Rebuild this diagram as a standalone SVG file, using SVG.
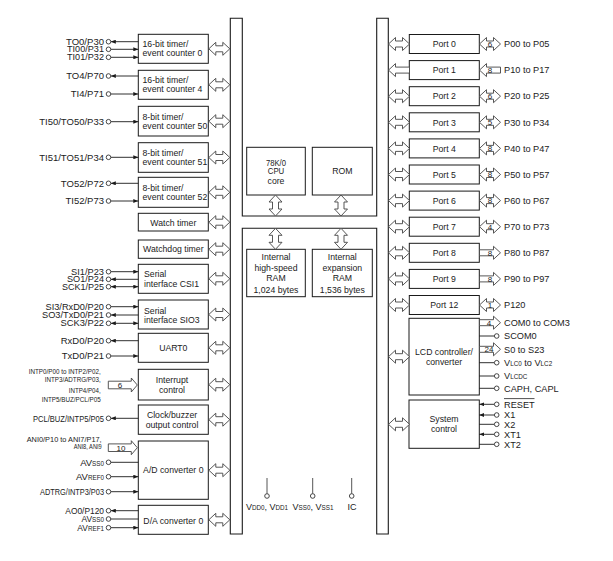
<svg xmlns="http://www.w3.org/2000/svg" width="613" height="561" viewBox="0 0 613 561">
<style>
.bx{fill:#fff;stroke:#1a1a1a;stroke-width:1}
.bus{fill:#fff;stroke:#1a1a1a;stroke-width:1.1}
.ln{stroke:#1a1a1a;stroke-width:0.9;fill:none}
.pl{stroke:#555;stroke-width:1;fill:none}
.ha{fill:#fff;stroke:#444;stroke-width:0.9}
text{font-family:"Liberation Sans",Arial,sans-serif;fill:#222}
.b{font-size:8.7px}
.bc{font-size:8.7px;text-anchor:middle}
.pL{font-size:9.5px;text-anchor:end}
.pT{font-size:8.4px;text-anchor:end}
.pR{font-size:9.2px}
.n{font-size:8px;text-anchor:middle}
.s{font-size:6.3px}
.cnd{font-size:6.8px;text-anchor:end}
</style>
<defs>
<marker id="ah" viewBox="0 0 5 4" refX="5" refY="2" markerWidth="5" markerHeight="4" markerUnits="userSpaceOnUse" orient="auto-start-reverse"><path d="M0,0L5,2L0,4Z" fill="#1a1a1a"/></marker>
<path id="dbl" d="M0,0L7,-6.5L7,-3L14,-3L14,-6.5L21,0L14,6.5L14,3L7,3L7,6.5Z"/>
<path id="lft" d="M0,0L7,-6.5L7,-3L21,-3L21,3L7,3L7,6.5Z"/>
<path id="rgt" d="M0,-3L14,-3L14,-6.5L21,0L14,6.5L14,3L0,3Z"/>
<path id="rgt29" d="M0,-3.8L23,-3.8L23,-7L29,0L23,7L23,3.8L0,3.8Z"/>
<path id="vdbl" d="M0,0L6.5,7L3,7L3,14L6.5,14L0,21L-6.5,14L-3,14L-3,7L-6.5,7Z"/>
</defs>

<g id="bus">
<path class="bus" d="M230.3,18.3H242.3V216H376.7V18.3H388.3V534H376.7V228.3H242.3V534H230.3Z"/>
</g>

<g id="cpu"><rect class="bx" x="246.7" y="147.3" width="58.6" height="47.7"/>
<text class="bc" x="276" y="166" textLength="20" lengthAdjust="spacingAndGlyphs">78K/0</text>
<text class="bc" x="276" y="173.5" textLength="16.5" lengthAdjust="spacingAndGlyphs">CPU</text>
<text class="bc" x="276" y="183.5">core</text></g>
<g id="rom"><rect class="bx" x="312.3" y="147.3" width="60" height="47.7"/>
<text class="bc" x="342.3" y="174">ROM</text></g>
<g id="ram"><rect class="bx" x="246.7" y="249.3" width="58.6" height="47.4"/>
<text class="bc" x="276" y="260">Internal</text><text class="bc" x="276" y="270.5">high-speed</text><text class="bc" x="276" y="281">RAM</text><text class="bc" x="276" y="293">1,024 bytes</text></g>
<g id="xram"><rect class="bx" x="312.3" y="249.3" width="60" height="47.4"/>
<text class="bc" x="342.3" y="260">Internal</text><text class="bc" x="342.3" y="270.5">expansion</text><text class="bc" x="342.3" y="281">RAM</text><text class="bc" x="342.3" y="293">1,536 bytes</text></g>

<g id="tm0"><rect class="bx" x="138.3" y="34.3" width="70" height="29"/><text class="b" x="142.5" y="47.4">16-bit timer/</text><text class="b" x="142.5" y="56.4">event counter 0</text></g>
<g id="tm4"><rect class="bx" x="138.3" y="70.3" width="70" height="29"/><text class="b" x="142.5" y="83.4">16-bit timer/</text><text class="b" x="142.5" y="92.4">event counter 4</text></g>
<g id="tm50"><rect class="bx" x="138.3" y="106.3" width="70" height="29.7"/><text class="b" x="142.5" y="119.7">8-bit timer/</text><text class="b" x="142.5" y="128.7">event counter 50</text></g>
<g id="tm51"><rect class="bx" x="138.3" y="142.7" width="70" height="29.6"/><text class="b" x="142.5" y="156">8-bit timer/</text><text class="b" x="142.5" y="165">event counter 51</text></g>
<g id="tm52"><rect class="bx" x="138.3" y="177.3" width="70" height="30"/><text class="b" x="142.5" y="190.8">8-bit timer/</text><text class="b" x="142.5" y="199.8">event counter 52</text></g>
<g id="wt"><rect class="bx" x="138.3" y="213.3" width="70" height="17.7"/><text class="bc" x="173.3" y="225.5">Watch timer</text></g>
<g id="wdt"><rect class="bx" x="138.3" y="240" width="70" height="18.3"/><text class="bc" x="173.3" y="252.4">Watchdog timer</text></g>
<g id="csi1"><rect class="bx" x="138.3" y="264.3" width="70" height="29"/><text class="b" x="144" y="277.4">Serial</text><text class="b" x="144" y="287.1">interface CSI1</text></g>
<g id="sio3"><rect class="bx" x="138.3" y="300" width="70" height="29"/><text class="b" x="144" y="313.8">Serial</text><text class="b" x="144" y="323.1">interface SIO3</text></g>
<g id="uart0"><rect class="bx" x="138.3" y="333.3" width="70" height="29"/><text class="bc" x="173.3" y="351">UART0</text></g>
<g id="intc"><rect class="bx" x="138.3" y="369.3" width="70" height="30.7"/><text class="bc" x="172" y="383.1">Interrupt</text><text class="bc" x="172" y="393.1">control</text></g>
<g id="clk"><rect class="bx" x="138.3" y="405" width="70" height="29.3"/><text class="bc" x="172" y="418.1">Clock/buzzer</text><text class="bc" x="172" y="428.1">output control</text></g>
<g id="adc"><rect class="bx" x="138.3" y="441" width="70" height="58.3"/><text class="bc" x="173.3" y="473.3">A/D converter 0</text></g>
<g id="dac"><rect class="bx" x="138.3" y="505.3" width="70" height="29"/><text class="bc" x="173.3" y="523.9">D/A converter 0</text></g>

<g id="p0"><rect class="bx" x="409.3" y="34.5" width="70" height="19"/><text class="bc" x="444.3" y="47.2">Port 0</text></g>
<g id="p1"><rect class="bx" x="409.3" y="60.6" width="70" height="19"/><text class="bc" x="444.3" y="73.3">Port 1</text></g>
<g id="p2"><rect class="bx" x="409.3" y="86.7" width="70" height="19"/><text class="bc" x="444.3" y="99.4">Port 2</text></g>
<g id="p3"><rect class="bx" x="409.3" y="112.8" width="70" height="19"/><text class="bc" x="444.3" y="125.5">Port 3</text></g>
<g id="p4"><rect class="bx" x="409.3" y="138.9" width="70" height="19"/><text class="bc" x="444.3" y="151.6">Port 4</text></g>
<g id="p5"><rect class="bx" x="409.3" y="165" width="70" height="19"/><text class="bc" x="444.3" y="177.7">Port 5</text></g>
<g id="p6"><rect class="bx" x="409.3" y="191.1" width="70" height="19"/><text class="bc" x="444.3" y="203.8">Port 6</text></g>
<g id="p7"><rect class="bx" x="409.3" y="217.2" width="70" height="19"/><text class="bc" x="444.3" y="229.9">Port 7</text></g>
<g id="p8"><rect class="bx" x="409.3" y="243.3" width="70" height="19"/><text class="bc" x="444.3" y="256">Port 8</text></g>
<g id="p9"><rect class="bx" x="409.3" y="269.4" width="70" height="19"/><text class="bc" x="444.3" y="282.1">Port 9</text></g>
<g id="p12"><rect class="bx" x="409.3" y="295.5" width="70" height="19"/><text class="bc" x="444.3" y="308.2">Port 12</text></g>
<g id="lcd"><rect class="bx" x="409" y="318.3" width="70.3" height="76.7"/><text class="bc" x="444" y="354.8">LCD controller/</text><text class="bc" x="444" y="365">converter</text></g>
<g id="sys"><rect class="bx" x="409" y="400" width="70.3" height="48.3"/><text class="bc" x="444" y="421.5">System</text><text class="bc" x="444" y="432">control</text></g>

<g id="connectors">
<use href="#dbl" class="ha" x="208.8" y="48.8"/>
<use href="#dbl" class="ha" x="208.8" y="84.8"/>
<use href="#dbl" class="ha" x="208.8" y="121.2"/>
<use href="#dbl" class="ha" x="208.8" y="157.5"/>
<use href="#dbl" class="ha" x="208.8" y="192.3"/>
<use href="#dbl" class="ha" x="208.8" y="222.2"/>
<use href="#dbl" class="ha" x="208.8" y="249.2"/>
<use href="#dbl" class="ha" x="208.8" y="278.8"/>
<use href="#dbl" class="ha" x="208.8" y="314.5"/>
<use href="#dbl" class="ha" x="208.8" y="347.8"/>
<use href="#dbl" class="ha" x="208.8" y="384.7"/>
<use href="#dbl" class="ha" x="208.8" y="419.7"/>
<use href="#dbl" class="ha" x="208.8" y="470.2"/>
<use href="#dbl" class="ha" x="208.8" y="519.8"/>
<use href="#dbl" class="ha" x="388.5" y="44"/>
<use href="#lft" class="ha" x="388.5" y="70.1"/>
<use href="#dbl" class="ha" x="388.5" y="96.2"/>
<use href="#dbl" class="ha" x="388.5" y="122.3"/>
<use href="#dbl" class="ha" x="388.5" y="148.4"/>
<use href="#dbl" class="ha" x="388.5" y="174.5"/>
<use href="#dbl" class="ha" x="388.5" y="200.6"/>
<use href="#dbl" class="ha" x="388.5" y="226.7"/>
<use href="#dbl" class="ha" x="388.5" y="252.8"/>
<use href="#dbl" class="ha" x="388.5" y="278.9"/>
<use href="#dbl" class="ha" x="388.5" y="305"/>
<use href="#dbl" class="ha" x="388.5" y="356.7"/>
<use href="#dbl" class="ha" x="388.5" y="424.3"/>
<use href="#vdbl" class="ha" x="275.5" y="195"/>
<use href="#vdbl" class="ha" x="341" y="195"/>
<use href="#vdbl" class="ha" x="275.5" y="228.3"/>
<use href="#vdbl" class="ha" x="341" y="228.3"/>
<use href="#dbl" class="ha" x="479.5" y="44"/><text class="n" x="490" y="46.8">6</text>
<use href="#lft" class="ha" x="479.5" y="70.1"/><text class="n" x="490" y="72.9">8</text>
<use href="#dbl" class="ha" x="479.5" y="96.2"/><text class="n" x="490" y="99">6</text>
<use href="#dbl" class="ha" x="479.5" y="122.3"/><text class="n" x="490" y="125.1">5</text>
<use href="#dbl" class="ha" x="479.5" y="148.4"/><text class="n" x="490" y="151.2">8</text>
<use href="#dbl" class="ha" x="479.5" y="174.5"/><text class="n" x="490" y="177.3">8</text>
<use href="#dbl" class="ha" x="479.5" y="200.6"/><text class="n" x="490" y="203.4">8</text>
<use href="#dbl" class="ha" x="479.5" y="226.7"/><text class="n" x="490" y="229.5">4</text>
<use href="#rgt" class="ha" x="479.5" y="252.8"/><text class="n" x="490" y="255.6">8</text>
<use href="#rgt" class="ha" x="479.5" y="278.9"/><text class="n" x="490" y="281.7">8</text>
<use href="#dbl" class="ha" x="479.5" y="305"/><text class="n" x="490" y="307.8">1</text>
<use href="#rgt" class="ha" x="479.5" y="322.7"/><text class="n" x="489" y="325.5">4</text>
<use href="#rgt" class="ha" x="479.5" y="349.3"/><text class="n" x="489" y="352.1">24</text>
<use href="#rgt29" class="ha" x="108.3" y="385"/><text class="n" x="120" y="387.8">6</text>
<use href="#rgt29" class="ha" x="108.3" y="447.7"/><text class="n" x="121" y="450.5">10</text>
<line class="ln" x1="138.3" y1="41.7" x2="110.8" y2="41.7" marker-end="url(#ah)"/>
<line class="ln" x1="110.8" y1="49.3" x2="138.3" y2="49.3" marker-end="url(#ah)"/>
<line class="ln" x1="110.8" y1="57.3" x2="138.3" y2="57.3" marker-end="url(#ah)"/>
<line class="ln" x1="138.3" y1="76" x2="110.8" y2="76" marker-end="url(#ah)"/>
<line class="ln" x1="110.8" y1="94" x2="138.3" y2="94" marker-end="url(#ah)"/>
<line class="ln" x1="110.8" y1="121.7" x2="138.3" y2="121.7" marker-end="url(#ah)"/>
<line class="ln" x1="110.8" y1="157.3" x2="138.3" y2="157.3" marker-end="url(#ah)"/>
<line class="ln" x1="138.3" y1="183.3" x2="110.8" y2="183.3" marker-end="url(#ah)"/>
<line class="ln" x1="110.8" y1="201" x2="138.3" y2="201" marker-end="url(#ah)"/>
<line class="ln" x1="110.8" y1="271.7" x2="138.3" y2="271.7" marker-end="url(#ah)"/>
<line class="ln" x1="138.3" y1="279.3" x2="110.8" y2="279.3" marker-end="url(#ah)"/>
<line class="ln" x1="138.3" y1="286.7" x2="110.8" y2="286.7" marker-end="url(#ah)" marker-start="url(#ah)"/>
<line class="ln" x1="110.8" y1="306.7" x2="138.3" y2="306.7" marker-end="url(#ah)"/>
<line class="ln" x1="138.3" y1="315" x2="110.8" y2="315" marker-end="url(#ah)"/>
<line class="ln" x1="138.3" y1="323.3" x2="110.8" y2="323.3" marker-end="url(#ah)" marker-start="url(#ah)"/>
<line class="ln" x1="138.3" y1="340.7" x2="110.8" y2="340.7" marker-end="url(#ah)"/>
<line class="ln" x1="110.8" y1="356" x2="138.3" y2="356" marker-end="url(#ah)"/>
<line class="ln" x1="138.3" y1="418.3" x2="110.8" y2="418.3" marker-end="url(#ah)"/>
<line class="ln" x1="110.8" y1="462.3" x2="138.3" y2="462.3"/>
<line class="ln" x1="110.8" y1="476.7" x2="138.3" y2="476.7" marker-end="url(#ah)"/>
<line class="ln" x1="110.8" y1="491.7" x2="138.3" y2="491.7" marker-end="url(#ah)"/>
<line class="ln" x1="138.3" y1="510.7" x2="110.8" y2="510.7" marker-end="url(#ah)"/>
<line class="ln" x1="110.8" y1="519" x2="138.3" y2="519"/>
<line class="ln" x1="110.8" y1="527.7" x2="138.3" y2="527.7" marker-end="url(#ah)"/>
<line class="ln" x1="479.3" y1="336" x2="494.4" y2="336"/>
<line class="ln" x1="479.3" y1="362.7" x2="494.4" y2="362.7"/>
<line class="ln" x1="479.3" y1="376" x2="494.4" y2="376"/>
<line class="ln" x1="479.3" y1="388.3" x2="494.4" y2="388.3"/>
<line class="ln" x1="494.4" y1="404.3" x2="479.3" y2="404.3" marker-end="url(#ah)"/>
<line class="ln" x1="494.4" y1="415" x2="479.3" y2="415" marker-end="url(#ah)"/>
<line class="ln" x1="479.3" y1="424.3" x2="494.4" y2="424.3"/>
<line class="ln" x1="494.4" y1="434.3" x2="479.3" y2="434.3" marker-end="url(#ah)"/>
<line class="ln" x1="479.3" y1="444.3" x2="494.4" y2="444.3"/>
<line class="pl" x1="267" y1="478" x2="267" y2="493.7"/>
<line class="pl" x1="312.7" y1="478" x2="312.7" y2="493.7"/>
<line class="pl" x1="351.7" y1="478" x2="351.7" y2="493.7"/>
</g>

<g id="pins">
<g fill="#fff" stroke="#333" stroke-width="0.9">
<circle cx="108.5" cy="41.7" r="2.3"/><circle cx="108.5" cy="49.3" r="2.3"/><circle cx="108.5" cy="57.3" r="2.3"/>
<circle cx="108.5" cy="76" r="2.3"/><circle cx="108.5" cy="94" r="2.3"/><circle cx="108.5" cy="121.7" r="2.3"/>
<circle cx="108.5" cy="157.3" r="2.3"/><circle cx="108.5" cy="183.3" r="2.3"/><circle cx="108.5" cy="201" r="2.3"/>
<circle cx="108.5" cy="271.7" r="2.3"/><circle cx="108.5" cy="279.3" r="2.3"/><circle cx="108.5" cy="286.7" r="2.3"/>
<circle cx="108.5" cy="306.7" r="2.3"/><circle cx="108.5" cy="315" r="2.3"/><circle cx="108.5" cy="323.3" r="2.3"/>
<circle cx="108.5" cy="340.7" r="2.3"/><circle cx="108.5" cy="356" r="2.3"/><circle cx="108.5" cy="418.3" r="2.3"/>
<circle cx="108.5" cy="462.3" r="2.3"/><circle cx="108.5" cy="476.7" r="2.3"/><circle cx="108.5" cy="491.7" r="2.3"/>
<circle cx="108.5" cy="510.7" r="2.3"/><circle cx="108.5" cy="519" r="2.3"/><circle cx="108.5" cy="527.7" r="2.3"/>
<circle cx="496.7" cy="336" r="2.3"/><circle cx="496.7" cy="362.7" r="2.3"/><circle cx="496.7" cy="376" r="2.3"/><circle cx="496.7" cy="388.3" r="2.3"/>
<circle cx="496.7" cy="404.3" r="2.3"/><circle cx="496.7" cy="415" r="2.3"/><circle cx="496.7" cy="424.3" r="2.3"/><circle cx="496.7" cy="434.3" r="2.3"/><circle cx="496.7" cy="444.3" r="2.3"/>
<circle cx="267" cy="496" r="2.3"/><circle cx="312.7" cy="496" r="2.3"/><circle cx="351.7" cy="496" r="2.3"/>
</g>
<text class="pT" x="104" y="44.7" textLength="38" lengthAdjust="spacingAndGlyphs">TO0/P30</text>
<text class="pT" x="104" y="52.3" textLength="37" lengthAdjust="spacingAndGlyphs">TI00/P31</text>
<text class="pT" x="104" y="60.3" textLength="37" lengthAdjust="spacingAndGlyphs">TI01/P32</text>
<text class="pL" x="104" y="79.3">TO4/P70</text>
<text class="pL" x="104" y="97.3">TI4/P71</text>
<text class="pL" x="104" y="125">TI50/TO50/P33</text>
<text class="pL" x="104" y="160.6">TI51/TO51/P34</text>
<text class="pL" x="104" y="186.6">TO52/P72</text>
<text class="pL" x="104" y="204.3">TI52/P73</text>
<text class="pT" x="104" y="274.7" textLength="33" lengthAdjust="spacingAndGlyphs">SI1/P23</text>
<text class="pT" x="104" y="282.3" textLength="37" lengthAdjust="spacingAndGlyphs">SO1/P24</text>
<text class="pT" x="104" y="289.7" textLength="42" lengthAdjust="spacingAndGlyphs">SCK1/P25</text>
<text class="pT" x="104" y="309.7" textLength="58.5" lengthAdjust="spacingAndGlyphs">SI3/RxD0/P20</text>
<text class="pT" x="104" y="318" textLength="62" lengthAdjust="spacingAndGlyphs">SO3/TxD0/P21</text>
<text class="pT" x="104" y="326.3" textLength="43.5" lengthAdjust="spacingAndGlyphs">SCK3/P22</text>
<text class="pL" x="104" y="344">RxD0/P20</text>
<text class="pL" x="104" y="359.3">TxD0/P21</text>
<text class="cnd" x="100.7" y="374" textLength="72" lengthAdjust="spacingAndGlyphs">INTP0/P00 to INTP2/P02,</text>
<text class="cnd" x="100.7" y="382.3" textLength="56" lengthAdjust="spacingAndGlyphs">INTP3/ADTRG/P03,</text>
<text class="cnd" x="100.7" y="393.2" textLength="32" lengthAdjust="spacingAndGlyphs">INTP4/P04,</text>
<text class="cnd" x="100.7" y="401.5" textLength="59" lengthAdjust="spacingAndGlyphs">INTP5/BUZ/PCL/P05</text>
<text class="pL" x="104" y="421.6" textLength="71" lengthAdjust="spacingAndGlyphs">PCL/BUZ/INTP5/P05</text>
<text class="cnd" x="101.7" y="442" textLength="75" lengthAdjust="spacingAndGlyphs">ANI0/P10 to ANI7/P17,</text>
<text class="cnd" x="101.7" y="449" textLength="28" lengthAdjust="spacingAndGlyphs">ANI8, ANI9</text>
<text class="pL" x="104" y="465.6">AV<tspan class="s">SS0</tspan></text>
<text class="pL" x="104" y="480">AV<tspan class="s">REF0</tspan></text>
<text class="pL" x="104" y="495" textLength="64" lengthAdjust="spacingAndGlyphs">ADTRG/INTP3/P03</text>
<text class="pT" x="104" y="513.7">AO0/P120</text>
<text class="pT" x="104" y="522">AV<tspan class="s">SS0</tspan></text>
<text class="pT" x="104" y="530.7">AV<tspan class="s">REF1</tspan></text>

<text class="pR" x="504" y="47.2">P00 to P05</text>
<text class="pR" x="504" y="73.3">P10 to P17</text>
<text class="pR" x="504" y="99.4">P20 to P25</text>
<text class="pR" x="504" y="125.5">P30 to P34</text>
<text class="pR" x="504" y="151.6">P40 to P47</text>
<text class="pR" x="504" y="177.7">P50 to P57</text>
<text class="pR" x="504" y="203.8">P60 to P67</text>
<text class="pR" x="504" y="229.9">P70 to P73</text>
<text class="pR" x="504" y="256">P80 to P87</text>
<text class="pR" x="504" y="282.1">P90 to P97</text>
<text class="pR" x="504" y="308.2">P120</text>
<text class="pR" x="504" y="325.9">COM0 to COM3</text>
<text class="pR" x="504" y="339.2">SCOM0</text>
<text class="pR" x="504" y="352.5">S0 to S23</text>
<text class="pR" x="504" y="365.9">V<tspan class="s">LC0</tspan> to V<tspan class="s">LC2</tspan></text>
<text class="pR" x="504" y="379.2">V<tspan class="s">LCDC</tspan></text>
<text class="pR" x="504" y="391.5">CAPH, CAPL</text>
<text class="pR" x="504" y="407.5">RESET</text>
<line x1="504" y1="398.6" x2="534.5" y2="398.6" stroke="#222" stroke-width="0.8"/>
<text class="pR" x="504" y="418.2">X1</text>
<text class="pR" x="504" y="427.5">X2</text>
<text class="pR" x="504" y="437.5">XT1</text>
<text class="pR" x="504" y="447.5">XT2</text>

<text class="bc" x="267" y="509.5" style="font-size:9px">V<tspan class="s">DD0</tspan>, V<tspan class="s">DD1</tspan></text>
<text class="bc" x="313" y="509.5" style="font-size:9px">V<tspan class="s">SS0</tspan>, V<tspan class="s">SS1</tspan></text>
<text class="bc" x="352" y="509.5" style="font-size:9px">IC</text>
</g>
</svg>
